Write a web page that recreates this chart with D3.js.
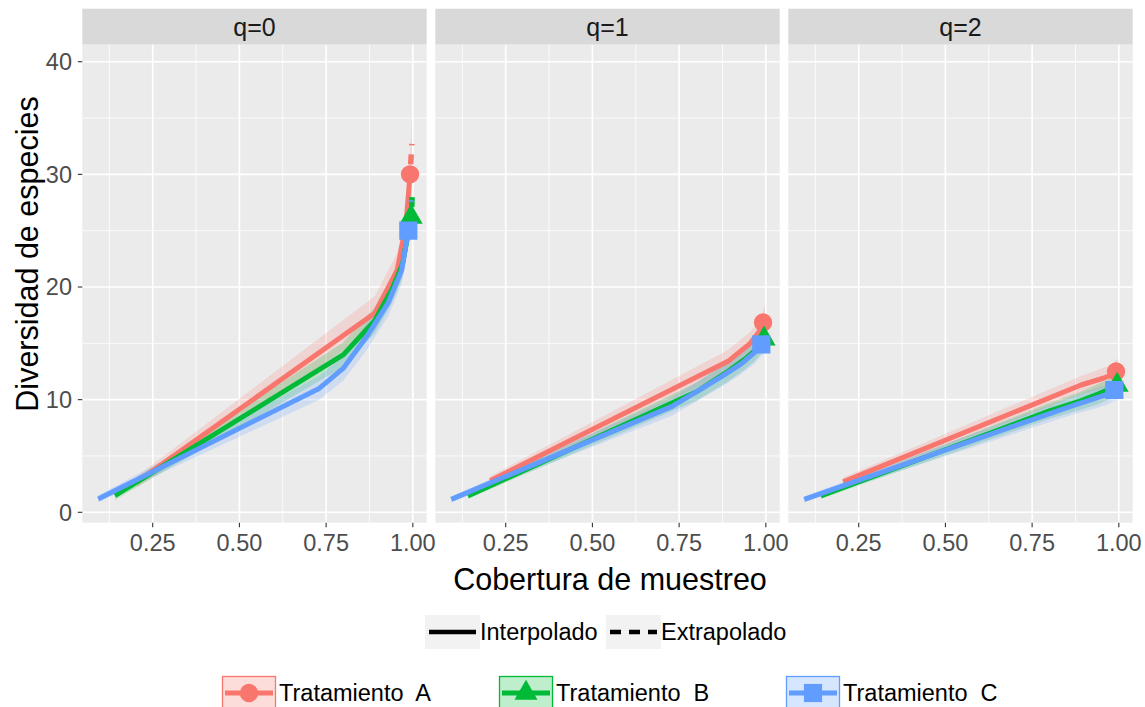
<!DOCTYPE html>
<html>
<head>
<meta charset="utf-8">
<script src="https://cdn.jsdelivr.net/npm/d3@7"></script>
<style>
  html, body { margin: 0; padding: 0; background: #ffffff; }
  svg { display: block; font-family: "Liberation Sans", Arial, sans-serif; }
</style>
</head>
<body>
<svg id="chart" width="1145" height="707"></svg>
<script>
// Facet labels, treatments and axis ticks
const orders = ["q=0", "q=1", "q=2"];
const treatments = ["Tratamiento  A", "Tratamiento  B", "Tratamiento  C"];
const colors = ["#F8766D", "#00BA38", "#619CFF"];
const xTicks = [0.25, 0.50, 0.75, 1.00];
const yTicks = [0, 10, 20, 30, 40];
const methods = ["Interpolado", "Extrapolado"];

// Rows: [sample coverage, diversity, lower CI, upper CI, method]
// method: "I" interpolated, "O" observed sample, "E" extrapolated
const tratA_q0 = [[0.205, 2.7, 2.2, 3.2, "I"], [0.891, 17.7, 16.2, 19.2, "I"], [0.955, 21.5, 20.0, 23.0, "I"], [0.980, 25.5, 24.0, 27.0, "I"], [0.992, 30.0, 28.2, 31.8, "O"], [0.995, 31.5, 29.5, 33.5, "E"], [0.997, 32.7, 30.5, 34.8, "E"]];
const tratB_q0 = [[0.141, 1.47, 1.1, 1.8, "I"], [0.800, 14.0, 12.9, 15.1, "I"], [0.890, 17.0, 15.9, 18.2, "I"], [0.940, 19.8, 18.6, 21.0, "I"], [0.970, 22.0, 20.8, 23.3, "I"], [0.995, 26.2, 24.8, 27.6, "O"], [0.997, 27.2, 25.6, 28.8, "E"], [0.998, 28.1, 26.3, 29.9, "E"]];
const tratC_q0 = [[0.093, 1.18, 0.9, 1.5, "I"], [0.730, 11.0, 10.0, 12.1, "I"], [0.800, 12.8, 11.7, 13.9, "I"], [0.867, 15.6, 14.4, 16.8, "I"], [0.929, 18.6, 17.4, 19.8, "I"], [0.968, 21.5, 20.3, 22.8, "I"], [0.987, 25.0, 23.7, 26.4, "O"], [0.993, 26.5, 25.0, 28.0, "E"], [0.996, 27.7, 26.0, 29.4, "E"]];

const tratA_q1 = [[0.205, 2.8, 2.4, 3.2, "I"], [0.891, 13.4, 12.4, 14.4, "I"], [0.955, 15.0, 14.0, 16.0, "I"], [0.980, 16.0, 15.0, 17.0, "I"], [0.992, 16.85, 15.8, 17.9, "O"], [0.995, 17.1, 16.0, 18.2, "E"], [0.997, 17.3, 16.1, 18.5, "E"]];
const tratB_q1 = [[0.141, 1.45, 1.2, 1.7, "I"], [0.800, 10.7, 9.9, 11.5, "I"], [0.890, 12.5, 11.6, 13.4, "I"], [0.940, 13.6, 12.7, 14.5, "I"], [0.970, 14.4, 13.5, 15.3, "I"], [0.995, 15.4, 14.4, 16.4, "O"], [0.997, 15.6, 14.5, 16.7, "E"], [0.998, 15.8, 14.6, 17.0, "E"]];
const tratC_q1 = [[0.093, 1.15, 0.9, 1.4, "I"], [0.730, 9.4, 8.6, 10.2, "I"], [0.870, 12.0, 11.1, 12.9, "I"], [0.930, 13.2, 12.3, 14.1, "I"], [0.968, 14.2, 13.2, 15.2, "I"], [0.987, 14.9, 13.9, 15.9, "O"], [0.993, 15.1, 14.0, 16.2, "E"], [0.996, 15.3, 14.1, 16.5, "E"]];

const tratA_q2 = [[0.205, 2.7, 2.3, 3.1, "I"], [0.891, 11.3, 10.5, 12.1, "I"], [0.955, 11.9, 11.0, 12.8, "I"], [0.980, 12.2, 11.3, 13.1, "I"], [0.992, 12.5, 11.5, 13.5, "O"], [0.995, 12.55, 11.5, 13.6, "E"], [0.997, 12.6, 11.5, 13.7, "E"]];
const tratB_q2 = [[0.141, 1.45, 1.2, 1.7, "I"], [0.800, 9.0, 8.3, 9.7, "I"], [0.890, 9.9, 9.1, 10.7, "I"], [0.940, 10.5, 9.6, 11.4, "I"], [0.970, 10.9, 10.0, 11.8, "I"], [0.995, 11.3, 10.3, 12.3, "O"], [0.997, 11.35, 10.3, 12.4, "E"], [0.998, 11.4, 10.3, 12.5, "E"]];
const tratC_q2 = [[0.093, 1.15, 0.9, 1.4, "I"], [0.730, 8.0, 7.3, 8.7, "I"], [0.870, 9.5, 8.7, 10.3, "I"], [0.930, 10.1, 9.2, 11.0, "I"], [0.968, 10.5, 9.6, 11.4, "I"], [0.987, 10.86, 9.9, 11.8, "O"], [0.993, 10.9, 9.9, 11.9, "E"], [0.996, 10.95, 9.9, 12.0, "E"]];

const seriesByOrder = [
  [tratA_q0, tratB_q0, tratC_q0],
  [tratA_q1, tratB_q1, tratC_q1],
  [tratA_q2, tratB_q2, tratC_q2]
];

// ---- layout ----
const svg = d3.select("#chart");
const panelX = [82.3, 435.3, 788.3];
const panelW = 344.4;
const stripTop = 8.7, panelTop = 44.7, panelBottom = 522.7;

const x = d3.scaleLinear().domain([0.047, 1.040]).range([0, panelW]);
const y = d3.scaleLinear().domain([-0.923, 41.51]).range([panelBottom, panelTop]);

const fontTick = 23.5;
const fontStrip = 25;
const fontTitle = 30.5;

const defs = svg.append("defs");

function markerPath(i, size) {
  const types = [d3.symbolCircle, d3.symbolTriangle, d3.symbolSquare];
  return d3.symbol().type(types[i]).size(size)();
}
const markerSizes = [265, 230, 330];

orders.forEach((q, pi) => {
  const g = svg.append("g").attr("transform", `translate(${panelX[pi]},0)`);

  // strip
  g.append("rect").attr("x", 0).attr("y", stripTop).attr("width", panelW)
    .attr("height", panelTop - stripTop).attr("fill", "#D9D9D9");
  g.append("text").attr("x", panelW / 2).attr("y", (stripTop + panelTop) / 2)
    .attr("dy", "0.36em").attr("text-anchor", "middle")
    .attr("font-size", fontStrip).attr("fill", "#1A1A1A").text(q);

  // panel background
  g.append("rect").attr("x", 0).attr("y", panelTop).attr("width", panelW)
    .attr("height", panelBottom - panelTop).attr("fill", "#EBEBEB");

  const clipId = "clip" + pi;
  defs.append("clipPath").attr("id", clipId).append("rect")
    .attr("x", 0).attr("y", panelTop).attr("width", panelW).attr("height", panelBottom - panelTop);

  // minor grid
  const xMinor = xTicks.map(t => t - 0.125);
  const yMinor = yTicks.map(t => t + 5).filter(t => t < 41);
  g.append("g").selectAll("line").data(xMinor).join("line")
    .attr("x1", d => x(d)).attr("x2", d => x(d)).attr("y1", panelTop).attr("y2", panelBottom)
    .attr("stroke", "#FFFFFF").attr("stroke-width", 0.8);
  g.append("g").selectAll("line").data(yMinor).join("line")
    .attr("x1", 0).attr("x2", panelW).attr("y1", d => y(d)).attr("y2", d => y(d))
    .attr("stroke", "#FFFFFF").attr("stroke-width", 0.8);
  // major grid
  g.append("g").selectAll("line").data(xTicks).join("line")
    .attr("x1", d => x(d)).attr("x2", d => x(d)).attr("y1", panelTop).attr("y2", panelBottom)
    .attr("stroke", "#FFFFFF").attr("stroke-width", 1.6);
  g.append("g").selectAll("line").data(yTicks).join("line")
    .attr("x1", 0).attr("x2", panelW).attr("y1", d => y(d)).attr("y2", d => y(d))
    .attr("stroke", "#FFFFFF").attr("stroke-width", 1.6);

  const plot = g.append("g").attr("clip-path", `url(#${clipId})`);
  const series = seriesByOrder[pi];

  // confidence ribbons
  const area = d3.area().x(d => x(d[0])).y0(d => y(d[2])).y1(d => y(d[3]));
  series.forEach((rows, si) => {
    plot.append("path").datum(rows).attr("d", area)
      .attr("fill", colors[si]).attr("fill-opacity", 0.2);
  });

  // lines: interpolated solid, extrapolated dashed
  const line = d3.line().x(d => x(d[0])).y(d => y(d[1]));
  series.forEach((rows, si) => {
    const obsIdx = rows.findIndex(r => r[4] === "O");
    const interp = rows.slice(0, obsIdx + 1);
    const extrap = rows.slice(obsIdx);
    plot.append("path").datum(interp).attr("d", line)
      .attr("fill", "none").attr("stroke", colors[si]).attr("stroke-width", 5)
      .attr("stroke-linejoin", "round");
    plot.append("path").datum(extrap).attr("d", line)
      .attr("fill", "none").attr("stroke", colors[si]).attr("stroke-width", 5.5)
      .attr("stroke-linecap", "butt")
      .attr("stroke-dasharray", "10,9").attr("stroke-dashoffset", -10);
  });

  // observed sample markers
  series.forEach((rows, si) => {
    const obs = rows.filter(r => r[4] === "O");
    plot.selectAll(null).data(obs).join("path")
      .attr("transform", d => `translate(${x(d[0])},${y(d[1])})`)
      .attr("d", markerPath(si, markerSizes[si]))
      .attr("fill", colors[si]);
  });

  // x axis
  const xa = g.append("g");
  xa.selectAll("line").data(xTicks).join("line")
    .attr("x1", d => x(d)).attr("x2", d => x(d)).attr("y1", panelBottom).attr("y2", panelBottom + 4.5)
    .attr("stroke", "#333333").attr("stroke-width", 1.1);
  xa.selectAll("text").data(xTicks).join("text")
    .attr("x", d => x(d)).attr("y", 551).attr("text-anchor", "middle")
    .attr("font-size", fontTick).attr("fill", "#4D4D4D")
    .text(d => d3.format(".2f")(d));
});

// y axis on the first panel
const ya = svg.append("g");
ya.selectAll("line").data(yTicks).join("line")
  .attr("x1", panelX[0] - 4.5).attr("x2", panelX[0]).attr("y1", d => y(d)).attr("y2", d => y(d))
  .attr("stroke", "#333333").attr("stroke-width", 1.1);
ya.selectAll("text").data(yTicks).join("text")
  .attr("x", 72).attr("y", d => y(d)).attr("dy", "0.36em").attr("text-anchor", "end")
  .attr("font-size", fontTick).attr("fill", "#4D4D4D").text(d => d);

// axis titles
svg.append("text").attr("x", 610).attr("y", 590).attr("text-anchor", "middle")
  .attr("font-size", fontTitle).attr("fill", "#000000").text("Cobertura de muestreo");
svg.append("text").attr("transform", "translate(38,254) rotate(-90)").attr("text-anchor", "middle")
  .attr("font-size", fontTitle).attr("fill", "#000000").text("Diversidad de especies");

// linetype legend
const ltKeys = [{ x: 425, dash: null }, { x: 606, dash: "11,8" }];
methods.forEach((m, i) => {
  const k = ltKeys[i];
  const lg = svg.append("g").attr("transform", `translate(${k.x},615)`);
  lg.append("rect").attr("width", 55).attr("height", 34).attr("fill", "#F2F2F2");
  lg.append("line").attr("x1", 4).attr("x2", 51).attr("y1", 17).attr("y2", 17)
    .attr("stroke", "#000000").attr("stroke-width", 4.5)
    .attr("stroke-dasharray", k.dash);
  lg.append("text").attr("x", 55).attr("y", 17).attr("dy", "0.36em")
    .attr("font-size", fontTick).attr("fill", "#000000").text(m);
});

// treatment legend
const trKeyX = [222, 499, 786];
treatments.forEach((t, i) => {
  const lg = svg.append("g").attr("transform", `translate(${trKeyX[i]},676)`);
  lg.append("rect").attr("x", 0.5).attr("y", 0.5).attr("width", 53).attr("height", 32)
    .attr("fill", colors[i]).attr("fill-opacity", 0.25)
    .attr("stroke", colors[i]).attr("stroke-width", 1.3);
  lg.append("line").attr("x1", 3).attr("x2", 51).attr("y1", 17).attr("y2", 17)
    .attr("stroke", colors[i]).attr("stroke-width", 5);
  lg.append("path").attr("transform", "translate(27,17)")
    .attr("d", markerPath(i, markerSizes[i])).attr("fill", colors[i]);
  lg.append("text").attr("x", 57).attr("y", 17).attr("dy", "0.36em")
    .attr("font-size", fontTick).attr("fill", "#000000")
    .style("white-space", "pre").attr("xml:space", "preserve").text(t);
});
</script>
</body>
</html>
